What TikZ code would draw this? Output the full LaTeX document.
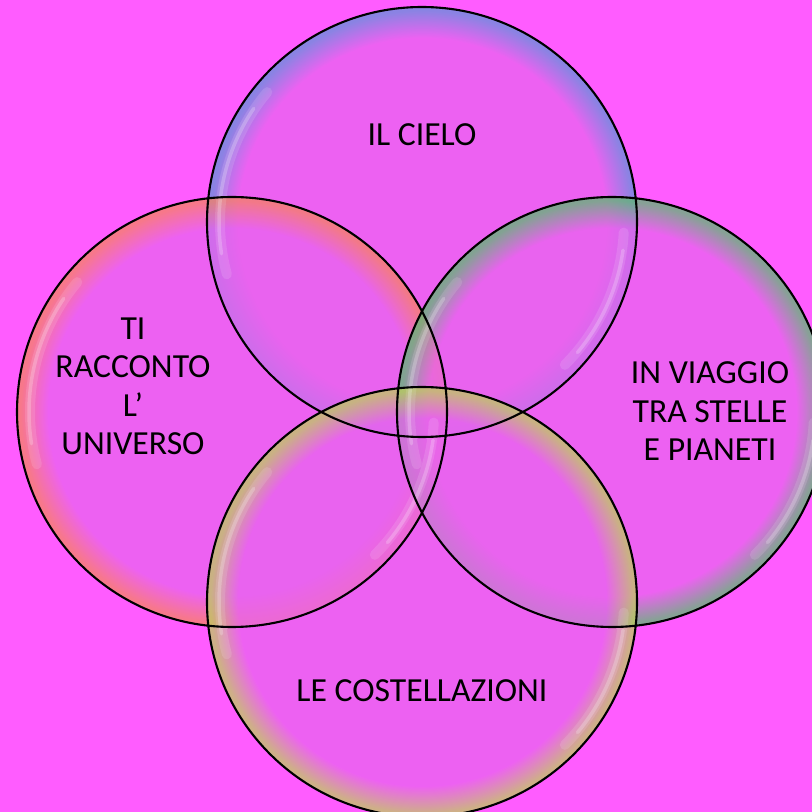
\documentclass[tikz,border=0pt]{standalone}
\usepackage{fontspec}
\setmainfont{Carlito}
\definecolor{bgcol}{RGB}{255,92,255}
\definecolor{inner}{RGB}{232,100,238}
\definecolor{rimT}{RGB}{100,145,218}
\definecolor{rimL}{RGB}{245,130,100}
\definecolor{rimR}{RGB}{95,185,115}
\definecolor{rimB}{RGB}{190,205,95}
\pgfdeclareradialshading{bubT}{\pgfpoint{0bp}{0bp}}{color(0bp)=(inner); color(21.4bp)=(inner); color(24.6bp)=(rimT); color(25bp)=(rimT); color(50bp)=(rimT)}
\pgfdeclareradialshading{bubL}{\pgfpoint{0bp}{0bp}}{color(0bp)=(inner); color(21.4bp)=(inner); color(24.6bp)=(rimL); color(25bp)=(rimL); color(50bp)=(rimL)}
\pgfdeclareradialshading{bubR}{\pgfpoint{0bp}{0bp}}{color(0bp)=(inner); color(21.4bp)=(inner); color(24.6bp)=(rimR); color(25bp)=(rimR); color(50bp)=(rimR)}
\pgfdeclareradialshading{bubB}{\pgfpoint{0bp}{0bp}}{color(0bp)=(inner); color(21.4bp)=(inner); color(24.6bp)=(rimB); color(25bp)=(rimB); color(50bp)=(rimB)}
\begin{document}
\begin{tikzpicture}[x=1pt,y=1pt,
  bubble/.style={fill opacity=0.75},
  rimline/.style={draw=black, line width=2.1pt},
  shine/.style={draw=white, line width=10pt, opacity=0.12, line cap=round},
  shinecore/.style={draw=white, line width=3.5pt, opacity=0.22, line cap=round},
  lbl/.style={font=\fontsize{33.7}{38.5}\selectfont, align=center, inner sep=0pt, text depth=0pt, text=black}]
\useasboundingbox (0,0) rectangle (812,812);
\clip (0,0) rectangle (812,812);
\fill[bgcol] (0,0) rectangle (812,812);
\def\R{215}
\coordinate (cT) at (422,590);
\coordinate (cL) at (232,400);
\coordinate (cR) at (612,400);
\coordinate (cB) at (422,210);
% fills
\shade[shading=bubT, bubble] (cT) circle (\R);
\shade[shading=bubL, bubble] (cL) circle (\R);
\shade[shading=bubR, bubble] (cR) circle (\R);
\shade[shading=bubB, bubble] (cB) circle (\R);
% highlights
\foreach \c in {cT,cL,cR,cB}{
  \draw[shine] (\c) ++(140:202) arc[start angle=140, end angle=195, radius=202];
  \draw[shinecore] (\c) ++(146:203) arc[start angle=146, end angle=189, radius=203];
  \draw[shine] (\c) ++(-45:202) arc[start angle=-45, end angle=-3, radius=202];
  \draw[shinecore] (\c) ++(-40:203) arc[start angle=-40, end angle=-8, radius=203];
}
% outlines
\draw[rimline] (cT) circle (\R);
\draw[rimline] (cL) circle (\R);
\draw[rimline] (cR) circle (\R);
\draw[rimline] (cB) circle (\R);
% labels
\node[lbl, anchor=south] (tcielo) at (422,666) {IL CIELO};
\node[lbl, anchor=south] (tuniv) at (133,357) {TI\\RACCONTO\\L’\\UNIVERSO};
\node[lbl, anchor=south] (tviag) at (710,351) {IN VIAGGIO\\TRA STELLE\\E PIANETI};
\node[lbl, anchor=south] (tcost) at (422,110) {LE COSTELLAZIONI};
\end{tikzpicture}
\end{document}
